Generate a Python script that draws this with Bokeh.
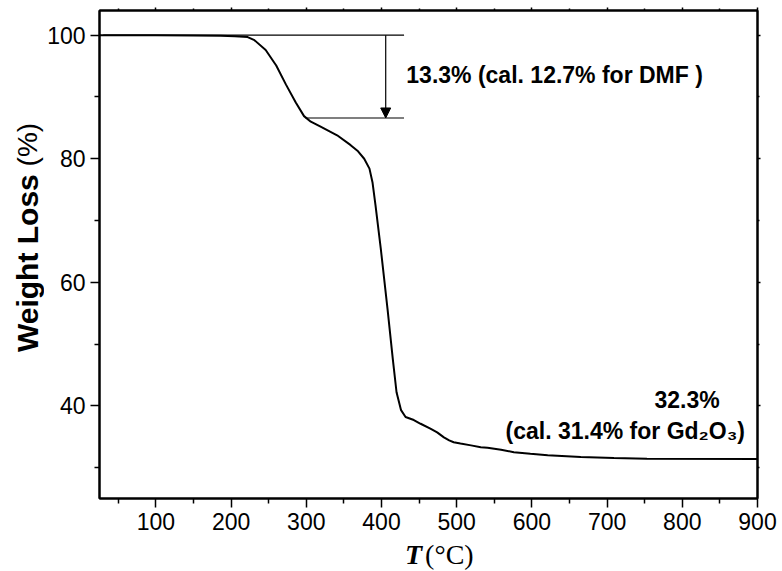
from bokeh.plotting import figure
from bokeh.models import (FixedTicker, LinearAxis, Label, Arrow, NormalHead,
                          Range1d, CustomJSTickFormatter, Div)
from bokeh.layouts import row, column
from bokeh.embed import file_html
from bokeh.resources import INLINE

# ---- data ----
temperature = [25, 100, 150, 186, 205, 222, 231, 246, 260, 273, 286, 297, 306,
               319, 341, 359, 368, 377, 384, 388, 392, 399, 408, 415, 420,
               426, 432, 443, 452, 465, 474, 483, 490, 496, 505, 519, 532, 541,
               559, 576, 598, 621, 665, 709, 753, 900]
weight = [100.0, 100.0, 99.95, 99.9, 99.85, 99.7, 99.2, 97.6, 95.1, 92.0, 89.1,
          86.9, 86.0, 85.2, 83.8, 82.2, 81.3, 80.0, 78.4, 76.2, 72.5,
          65.5, 55.7, 47.6, 42.2, 39.3, 38.2, 37.7, 37.1, 36.3, 35.7, 34.9,
          34.4, 34.1, 33.9, 33.6, 33.3, 33.2, 32.9, 32.5, 32.25, 32.0, 31.7,
          31.55, 31.45, 31.4]

x_major = [100, 200, 300, 400, 500, 600, 700, 800, 900]
x_minor = [50, 150, 250, 350, 450, 550, 650, 750, 850]
y_major = [40, 60, 80, 100]
y_minor = [30, 50, 70, 90]

# annotation geometry (data units)
step_start = [30, 299]
step_end = [430, 430]
step_level = [100, 86.6]
arrow_x = 405.6
dmf_text = "13.3% (cal. 12.7% for DMF )"
res_text1 = "32.3%"
res_text2 = "(cal. 31.4% for Gd\u2082O\u2083)"
y_title_bold = "Weight Loss"
y_title_unit = "(%)"
x_title_var = "T"
x_title_unit = "(\u00b0C)"

LEFT_W = 44
BOTTOM_H = 30
W, H = 782, 571

p = figure(width=W - LEFT_W, height=H - BOTTOM_H, output_backend="svg",
           toolbar_location=None,
           x_range=Range1d(25, 900), y_range=Range1d(25, 104),
           min_border_left=98 - LEFT_W, min_border_right=25, min_border_top=10,
           min_border_bottom=(H - BOTTOM_H) - 498)
p.xgrid.visible = False
p.ygrid.visible = False
p.background_fill_color = "white"
p.border_fill_color = "white"
p.outline_line_color = "black"
p.outline_line_width = 2

AX_FONT = "Liberation Sans"

for ax in p.xaxis:
    ax.ticker = FixedTicker(ticks=x_major, minor_ticks=x_minor)
for ax in p.yaxis:
    ax.ticker = FixedTicker(ticks=y_major, minor_ticks=y_minor)

for ax in list(p.xaxis) + list(p.yaxis):
    ax.axis_line_width = 2
    ax.major_tick_line_width = 1.5
    ax.minor_tick_line_width = 1.5
    ax.major_tick_in = 0
    ax.major_tick_out = 9
    ax.minor_tick_in = 0
    ax.minor_tick_out = 5
    ax.major_label_text_font = AX_FONT
    ax.major_label_text_font_size = "23px"
    ax.major_label_text_color = "black"
    ax.major_label_standoff = 5

# top and right axes: ticks only
top = LinearAxis(ticker=FixedTicker(ticks=x_major, minor_ticks=x_minor),
                 formatter=CustomJSTickFormatter(code="return ''"))
right = LinearAxis(ticker=FixedTicker(ticks=y_major, minor_ticks=y_minor),
                   formatter=CustomJSTickFormatter(code="return ''"))
for ax in (top, right):
    ax.axis_line_width = 2
    ax.major_tick_in = 0
    ax.major_tick_out = 3
    ax.minor_tick_in = 0
    ax.minor_tick_out = 2
    ax.major_tick_line_width = 1.5
    ax.minor_tick_line_width = 1.5
    ax.major_label_text_font_size = "0px"
    ax.major_label_standoff = 0
p.add_layout(top, "above")
p.add_layout(right, "right")

# curve
p.line(temperature, weight, line_color="black", line_width=2)

# step lines + arrow
p.segment(x0=step_start, y0=step_level, x1=step_end, y1=step_level,
          line_color="black", line_width=1.2)
p.add_layout(Arrow(end=NormalHead(size=10, fill_color="black", line_color="black",
                                  line_width=1),
                   x_start=arrow_x, y_start=step_level[0],
                   x_end=arrow_x, y_end=step_level[1],
                   line_color="black", line_width=1.2))

# annotations
p.add_layout(Label(x=433, y=93.5, text=dmf_text, text_font=AX_FONT,
                   text_font_size="23px", text_font_style="bold",
                   text_baseline="middle", text_align="left", text_color="black"))
p.add_layout(Label(x=763, y=41.0, text=res_text1, text_font=AX_FONT,
                   text_font_size="23px", text_font_style="bold",
                   text_baseline="middle", text_align="left", text_color="black"))
p.add_layout(Label(x=565, y=36.0, text=res_text2, text_font=AX_FONT,
                   text_font_size="23px", text_font_style="bold",
                   text_baseline="middle", text_align="left", text_color="black"))

# axis titles as real (HTML) text with mixed styles
html_y = (
    f'<div style="position:relative;width:{LEFT_W}px;height:{H}px;">'
    '<div style="position:absolute;left:11px;top:125px;height:227px;width:34px;'
    'writing-mode:vertical-rl;transform:rotate(180deg);line-height:34px;'
    "font-family:'Liberation Sans',sans-serif;color:#000;white-space:nowrap;\">"
    f'<span style="font-size:30px;font-weight:bold;">{y_title_bold}</span>'
    f'<span style="font-size:28px;font-weight:normal;"> {y_title_unit}</span>'
    '</div></div>'
)
html_x = (
    f'<div style="position:relative;width:{W - LEFT_W}px;height:{BOTTOM_H}px;">'
    f'<div style="position:absolute;left:{405 - LEFT_W}px;top:-1px;line-height:30px;'
    "white-space:nowrap;font-family:'Liberation Serif',serif;font-size:28px;color:#000;\">"
    f'<span style="font-weight:bold;font-style:italic;">{x_title_var}</span>'
    f'<span style="margin-left:3px;">{x_title_unit}</span>'
    '</div></div>'
)
div_y = Div(text=html_y, width=LEFT_W, height=H, margin=0)
div_x = Div(text=html_x, width=W - LEFT_W, height=BOTTOM_H, margin=0)

layout = row(div_y, column(p, div_x, spacing=0), spacing=0)

open("out.html", "w").write(file_html(layout, INLINE))
